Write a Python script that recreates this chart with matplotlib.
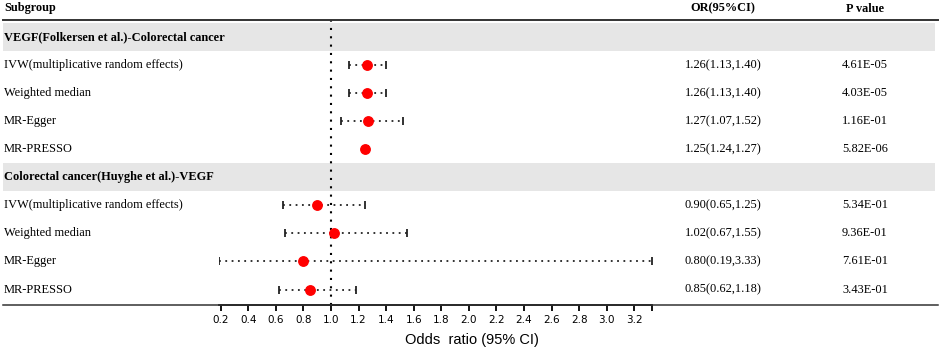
import matplotlib
matplotlib.use("Agg")
import matplotlib.pyplot as plt
import matplotlib.transforms as mtransforms
from matplotlib.patches import Rectangle
from matplotlib.lines import Line2D

# rows from top to bottom
labels = ["VEGF(Folkersen et al.)-Colorectal cancer",
          "IVW(multiplicative random effects)", "Weighted median", "MR-Egger", "MR-PRESSO",
          "Colorectal cancer(Huyghe et al.)-VEGF",
          "IVW(multiplicative random effects)", "Weighted median", "MR-Egger", "MR-PRESSO"]
is_group = [True, False, False, False, False, True, False, False, False, False]
odds = [None, 1.26, 1.26, 1.27, 1.25, None, 0.90, 1.02, 0.80, 0.85]
lower = [None, 1.13, 1.13, 1.07, 1.24, None, 0.65, 0.67, 0.19, 0.62]
upper = [None, 1.40, 1.40, 1.52, 1.27, None, 1.25, 1.55, 3.33, 1.18]
or_text = ["", "1.26(1.13,1.40)", "1.26(1.13,1.40)", "1.27(1.07,1.52)", "1.25(1.24,1.27)",
           "", "0.90(0.65,1.25)", "1.02(0.67,1.55)", "0.80(0.19,3.33)", "0.85(0.62,1.18)"]
p_text = ["", "4.61E-05", "4.03E-05", "1.16E-01", "5.82E-06",
          "", "5.34E-01", "9.36E-01", "7.61E-01", "3.43E-01"]
xticks = [0.2, 0.4, 0.6, 0.8, 1.0, 1.2, 1.4, 1.6, 1.8, 2.0, 2.2, 2.4, 2.6, 2.8, 3.0, 3.2]

W, H = 941, 351
fig = plt.figure(figsize=(W / 100, H / 100), dpi=100)
x0, x1 = 219.3, 652.3
y_top, y_bot = 20, 305
ax = fig.add_axes([x0 / W, 1 - y_bot / H, (x1 - x0) / W, (y_bot - y_top) / H])
ax.set_xlim(0.19, 3.33)
ax.set_ylim(9.55, -0.6)
ax.patch.set_alpha(0)
for s in ["top", "left", "right"]:
    ax.spines[s].set_visible(False)
ax.spines["bottom"].set_linewidth(1.3)
ax.set_yticks([])
ax.set_xticks(xticks + [3.33])
ax.set_xticklabels([f"{t:.1f}" for t in xticks] + [""], fontsize=7.5, family="DejaVu Sans")
ax.tick_params(axis="x", direction="out", length=4, width=1.3, pad=3)

trans = mtransforms.blended_transform_factory(fig.transFigure, ax.transData)
serif = "Liberation Serif"

# grey bands for group rows
for i, g in enumerate(is_group):
    if g:
        fig.add_artist(Rectangle((3 / W, i - 0.5), (935 - 3) / W, 1.0, transform=trans,
                                 facecolor="#e6e6e6", edgecolor="none", zorder=0))

# header and bottom lines
fig.add_artist(Line2D([3 / W, 938 / W], [-0.6, -0.6], transform=trans, color="#333333", lw=1.4))
fig.add_artist(Line2D([3 / W, 938 / W], [9.55, 9.55], transform=trans, color="#333333", lw=1.1))

ax.axvline(1.0, color="black", lw=1.5, linestyle=(0, (1, 3)), zorder=1)

# header text
fig.text(4 / W, 1 - 8.5 / H, "Subgroup", family=serif, weight="bold", fontsize=8.8, va="center")
fig.text(723 / W, 1 - 8.5 / H, "OR(95%CI)", family=serif, weight="bold", fontsize=8.8, va="center", ha="center")
fig.text(865 / W, 1 - 8.5 / H, "P value", family=serif, weight="bold", fontsize=8.8, va="center", ha="center")

for i, lab in enumerate(labels):
    fig.text(4 / W, i, lab, transform=trans, family=serif, fontsize=8.9, va="center",
             weight="bold" if is_group[i] else "normal")
    fig.text(723 / W, i, or_text[i], transform=trans, family=serif, fontsize=8.9, va="center", ha="center")
    fig.text(865 / W, i, p_text[i], transform=trans, family=serif, fontsize=8.9, va="center", ha="center")

for i in range(len(labels)):
    if odds[i] is None:
        continue
    ax.hlines(i, lower[i], upper[i], color="#222222", lw=1.3, linestyle=(0, (1, 2.5)), zorder=2)
    ax.plot([lower[i], upper[i]], [i, i], linestyle="none", marker="|", markersize=6,
            markeredgewidth=1.3, color="#222222", zorder=2)
    ax.plot(odds[i], i, "o", color="#ff0000", markersize=6.8, zorder=3, clip_on=False)

fig.text(472 / W, 1 - 340 / H, "Odds  ratio (95% CI)", family="Liberation Sans", fontsize=10.5,
         ha="center", va="center")

fig.savefig("out.png", dpi=100)
